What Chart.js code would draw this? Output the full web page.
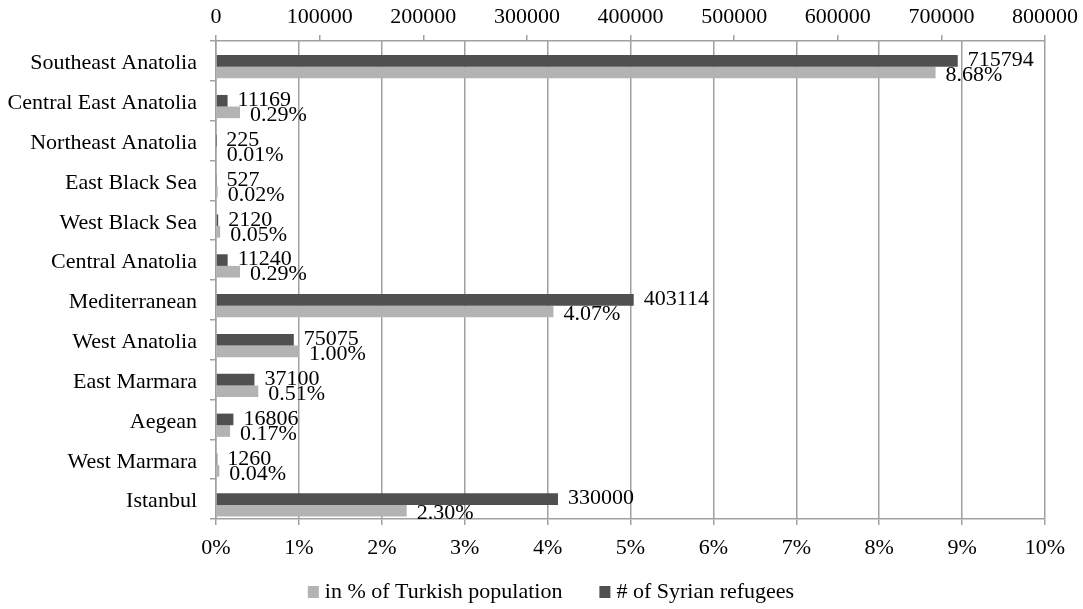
<!DOCTYPE html>
<html>
<head>
<meta charset="utf-8">
<title>Syrian refugees by region</title>
<script src="https://cdn.jsdelivr.net/npm/chart.js@4/dist/chart.umd.min.js"></script>
<style>
  html, body { margin: 0; padding: 0; background: #ffffff; }
  canvas { display: block; }
</style>
</head>
<body>
<canvas id="chart" width="1083" height="609"></canvas>
<script>
// Regions, top to bottom
const regions = [
  'Southeast Anatolia', 'Central East Anatolia', 'Northeast Anatolia', 'East Black Sea',
  'West Black Sea', 'Central Anatolia', 'Mediterranean', 'West Anatolia',
  'East Marmara', 'Aegean', 'West Marmara', 'Istanbul'
];
// Number of Syrian refugees per region
const refugees = [715794, 11169, 225, 527, 2120, 11240, 403114, 75075, 37100, 16806, 1260, 330000];
// Refugees as a share of the regional Turkish population, in %
const populationShare = [8.68, 0.29, 0.01, 0.02, 0.05, 0.29, 4.07, 1.00, 0.51, 0.17, 0.04, 2.30];
// Axis tick values
const refugeeTicks = [0, 100000, 200000, 300000, 400000, 500000, 600000, 700000, 800000];
const percentTicks = [0, 1, 2, 3, 4, 5, 6, 7, 8, 9, 10];

const seriesNames = { share: 'in % of Turkish population', refugees: '# of Syrian refugees' };

const FONT = '"Liberation Serif", "Times New Roman", serif';
const FONT_SIZE = 22;
const GRID = '#a0a0a0';
const DARK = '#505050';
const LIGHT = '#b3b3b3';

// Value labels at the outer end of each bar
const valueLabels = {
  id: 'valueLabels',
  afterDatasetsDraw(chart) {
    const ctx = chart.ctx;
    ctx.save();
    ctx.font = FONT_SIZE + 'px ' + FONT;
    ctx.fillStyle = '#000000';
    ctx.textAlign = 'left';
    ctx.textBaseline = 'middle';
    chart.data.datasets.forEach((ds, di) => {
      const fmt = ds._fmt;
      if (!fmt) return;
      const meta = chart.getDatasetMeta(di);
      meta.data.forEach((bar, i) => {
        const v = ds.data[i];
        if (v === null || v === undefined) return;
        ctx.fillText(fmt(v), bar.x + 10, bar.y + ds._shift);
      });
    });
    ctx.restore();
  }
};

// Legend row beneath the bottom axis
const bottomLegend = {
  id: 'bottomLegend',
  afterDraw(chart) {
    const ctx = chart.ctx;
    const items = [chart.data.datasets[2], chart.data.datasets[1]];
    ctx.save();
    ctx.font = FONT_SIZE + 'px ' + FONT;
    ctx.textBaseline = 'middle';
    ctx.textAlign = 'left';
    const boxW = 11, boxH = 12, gap = 6, itemGap = 37;
    const widths = items.map(d => ctx.measureText(d.label).width);
    const total = widths.reduce((s, w) => s + boxW + gap + w, 0) + itemGap * (items.length - 1);
    let x = 551 - total / 2;
    const y = 592.5;
    items.forEach((d, k) => {
      ctx.fillStyle = d.backgroundColor;
      ctx.fillRect(x, y - 6.5, boxW, boxH);
      ctx.fillStyle = '#000000';
      ctx.fillText(d.label, x + boxW + gap, y);
      x += boxW + gap + widths[k] + itemGap;
    });
    ctx.restore();
  }
};

const tickFont = { family: FONT, size: FONT_SIZE };

new Chart(document.getElementById('chart'), {
  type: 'bar',
  data: {
    labels: regions,
    datasets: [
      {
        // empty slot that keeps the pair of bars in the lower part of each band
        label: '',
        data: regions.map(() => null),
        xAxisID: 'xPct',
        backgroundColor: 'rgba(0,0,0,0)'
      },
      {
        label: seriesNames.refugees,
        data: refugees,
        xAxisID: 'xRef',
        backgroundColor: DARK,
        _fmt: v => String(v),
        _shift: -0.5
      },
      {
        label: seriesNames.share,
        data: populationShare,
        xAxisID: 'xPct',
        backgroundColor: LIGHT,
        _fmt: v => v.toFixed(2) + '%',
        _shift: 3
      }
    ]
  },
  options: {
    indexAxis: 'y',
    responsive: false,
    animation: false,
    devicePixelRatio: 1,
    barPercentage: 1,
    categoryPercentage: 0.875,
    layout: { padding: { top: 0, right: 38, bottom: 45, left: 0 } },
    plugins: {
      legend: { display: false },
      tooltip: { enabled: false }
    },
    scales: {
      y: {
        type: 'category',
        afterFit: s => { s.width = 216; },
        grid: { drawOnChartArea: false, drawTicks: true, tickLength: 6, color: GRID, lineWidth: 1.5, offset: true },
        border: { display: true, color: GRID, width: 1.5 },
        ticks: { font: tickFont, color: '#000000', padding: 13, labelOffset: 2.5 }
      },
      xRef: {
        type: 'linear',
        position: 'top',
        min: refugeeTicks[0],
        max: refugeeTicks[refugeeTicks.length - 1],
        afterFit: s => { s.height = 41; },
        afterBuildTicks: s => { s.ticks = refugeeTicks.map(v => ({ value: v })); },
        grid: { drawOnChartArea: false, drawTicks: true, tickLength: 6, color: GRID, lineWidth: 1.5 },
        border: { display: true, color: GRID, width: 1.5 },
        ticks: { font: tickFont, color: '#000000', padding: 5, maxRotation: 0, autoSkip: false, callback: v => String(v) }
      },
      xPct: {
        type: 'linear',
        position: 'bottom',
        min: percentTicks[0],
        max: percentTicks[percentTicks.length - 1],
        afterFit: s => { s.height = 45; },
        afterBuildTicks: s => { s.ticks = percentTicks.map(v => ({ value: v })); },
        grid: { drawOnChartArea: true, drawTicks: true, tickLength: 6, color: GRID, lineWidth: 1.5 },
        border: { display: true, color: GRID, width: 1.5 },
        ticks: { font: tickFont, color: '#000000', padding: 10, maxRotation: 0, autoSkip: false, callback: v => v + '%' }
      }
    }
  },
  plugins: [valueLabels, bottomLegend]
});
</script>
</body>
</html>
